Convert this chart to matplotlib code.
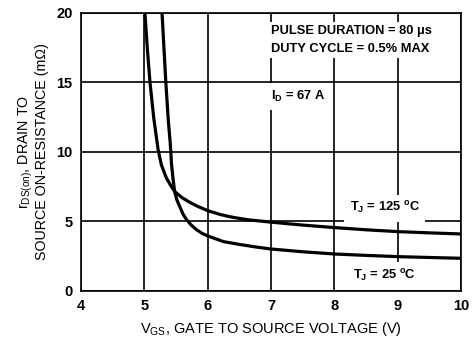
import matplotlib.pyplot as plt

plt.rcParams['font.family'] = ['Liberation Sans', 'DejaVu Sans']

# on-resistance vs gate voltage, I_D = 67 A
vgs_125 = [5.01, 5.05, 5.09, 5.15, 5.22, 5.27, 5.35, 5.42, 5.48, 5.6, 5.72, 5.85,
           6.0, 6.2, 6.35, 6.5, 6.64, 7.0, 7.5, 8.0, 8.5, 9.0, 9.5, 10.0]
rds_125 = [20.0, 17.3, 15.0, 12.4, 10.1, 9.05, 8.1, 7.55, 7.13, 6.68, 6.35, 6.05,
           5.76, 5.48, 5.32, 5.2, 5.1, 4.93, 4.72, 4.54, 4.38, 4.25, 4.16, 4.08]

vgs_25 = [5.28, 5.34, 5.38, 5.41, 5.43, 5.455, 5.48, 5.515, 5.56, 5.61, 5.67, 5.75,
          5.83, 5.91, 6.0, 6.25, 6.5, 6.75, 7.0, 7.5, 8.0, 8.5, 9.0, 9.5, 10.0]
rds_25 = [20.0, 15.0, 12.2, 10.6, 9.1, 8.0, 7.13, 6.52, 6.05, 5.52, 5.09, 4.68,
          4.37, 4.13, 3.94, 3.53, 3.33, 3.15, 3.0, 2.8, 2.64, 2.54, 2.45, 2.39, 2.33]

x_ticks = [4, 5, 6, 7, 8, 9, 10]
y_ticks = [0, 5, 10, 15, 20]

fig = plt.figure(figsize=(4.73, 3.41), dpi=100)
ax = fig.add_axes([0.171, 0.1475, 0.804, 0.8155])

ax.plot(vgs_125, rds_125, color='black', lw=2.3, zorder=3)
ax.plot(vgs_25, rds_25, color='black', lw=2.3, zorder=3)

ax.set_xlim(4, 10)
ax.set_ylim(0, 20)
ax.set_xticks(x_ticks)
ax.set_yticks(y_ticks)
ax.grid(True, color='black', lw=1.2)
ax.set_axisbelow(True)
for s in ax.spines.values():
    s.set_linewidth(1.2)
ax.tick_params(length=0, pad=6, labelsize=10.5)
for lbl in ax.get_xticklabels() + ax.get_yticklabels():
    lbl.set_fontweight('bold')

ax.set_xlabel(r'V$_\mathregular{GS}$, GATE TO SOURCE VOLTAGE (V)', fontsize=10.5, labelpad=5)
ax.set_ylabel('r$_\\mathregular{DS(on)}$, DRAIN TO\nSOURCE ON-RESISTANCE (m\u03a9)',
              fontsize=10.3, labelpad=5, linespacing=1.0)

# labels sit on white boxes that cut the grid lines behind them
txt = dict(fontsize=9.3, fontweight='bold', color='black', zorder=4)
box = dict(facecolor='white', edgecolor='none', pad=2.5)
ax.text(7.0, 18.65, 'PULSE DURATION = 80 \u03bcs', va='center', ha='left', bbox=box, **txt)
ax.text(7.0, 17.4, 'DUTY CYCLE = 0.5% MAX', va='center', ha='left', bbox=box, **txt)
ax.text(7.0, 13.97, r'I$_\mathregular{D}$ = 67 A', va='center', ha='left',
        bbox=dict(facecolor='white', edgecolor='none', pad=4), **txt)
ax.text(8.24, 5.93, r'T$_\mathregular{J}$ = 125 $^\mathregular{o}$C', va='center', ha='left',
        bbox=dict(facecolor='white', edgecolor='none', pad=4), **txt)
ax.text(8.29, 1.06, r'T$_\mathregular{J}$ = 25 $^\mathregular{o}$C', va='center', ha='left',
        bbox=dict(facecolor='white', edgecolor='none', pad=4), **txt)

fig.savefig('out.png', dpi=100)
